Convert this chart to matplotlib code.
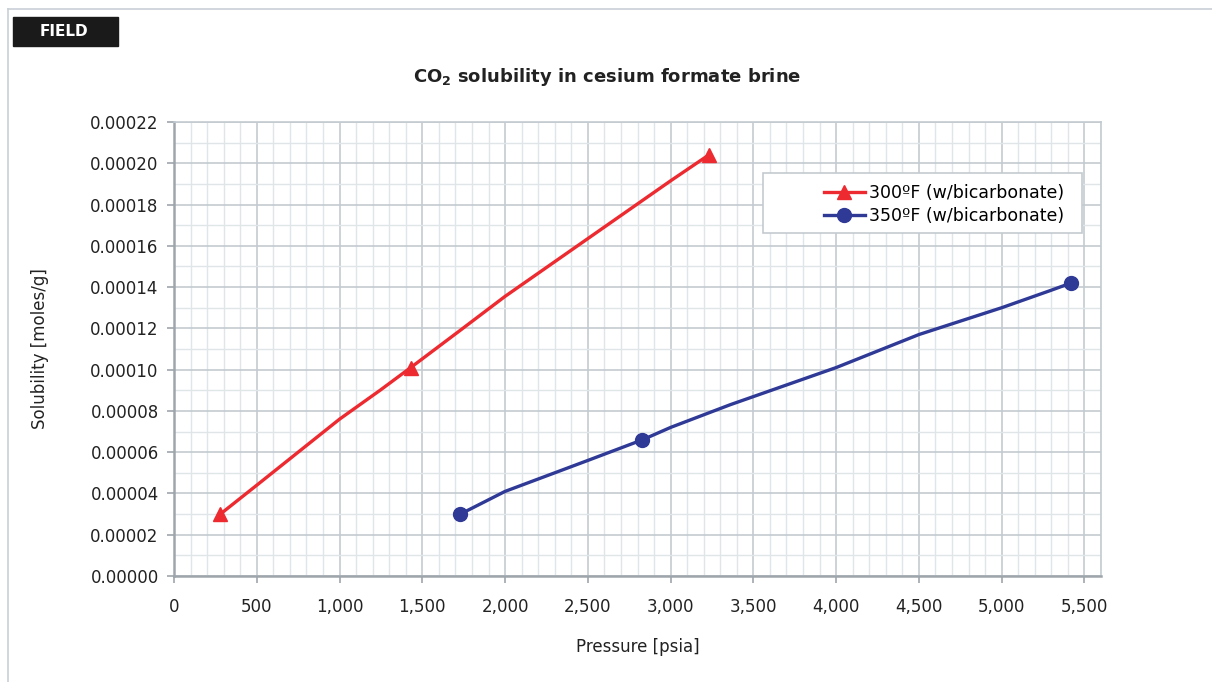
import matplotlib
matplotlib.use('Agg')
import matplotlib.pyplot as plt
from matplotlib.lines import Line2D
from matplotlib.patches import Rectangle
from matplotlib.ticker import MultipleLocator, FuncFormatter

# 300F (w/bicarbonate) - line points and the measured (marker) points
p300 = [280, 500, 750, 1000, 1245, 1430, 1720, 2000, 2500, 3000, 3230]
s300 = [3.0e-5, 4.4e-5, 6.0e-5, 7.6e-5, 9.0e-5, 1.01e-4, 1.185e-4, 1.355e-4, 1.635e-4, 1.915e-4, 2.04e-4]
p300_pts = [280, 1430, 3230]
s300_pts = [3.0e-5, 1.01e-4, 2.04e-4]

# 350F (w/bicarbonate)
p350 = [1730, 2000, 2500, 2830, 3000, 3360, 4000, 4500, 5000, 5300, 5420]
s350 = [3.0e-5, 4.1e-5, 5.6e-5, 6.6e-5, 7.2e-5, 8.3e-5, 1.01e-4, 1.17e-4, 1.30e-4, 1.385e-4, 1.42e-4]
p350_pts = [1730, 2830, 5420]
s350_pts = [3.0e-5, 6.6e-5, 1.42e-4]

labels = ['300ºF (w/bicarbonate)', '350ºF (w/bicarbonate)']

red = '#ec2a30'
blue = '#2f3996'
major_c = '#c3cbd0'
minor_c = '#e0e5e8'

fig = plt.figure(figsize=(12.12, 6.82), dpi=100)
ax = fig.add_axes([174/1212, 1-576/682, (1101-174)/1212, (576-122)/682])

ax.plot(p300, s300, color=red, lw=2.4, zorder=3)
ax.plot(p300_pts, s300_pts, ls='none', marker='^', ms=10, color=red, zorder=4)
ax.plot(p350, s350, color=blue, lw=2.4, zorder=3)
ax.plot(p350_pts, s350_pts, ls='none', marker='o', ms=10, color=blue, zorder=4)

ax.set_xlim(0, 5600)
ax.set_ylim(0, 0.00022)
ax.xaxis.set_major_locator(MultipleLocator(500))
ax.xaxis.set_minor_locator(MultipleLocator(100))
ax.yaxis.set_major_locator(MultipleLocator(0.00002))
ax.yaxis.set_minor_locator(MultipleLocator(0.00001))
ax.xaxis.set_major_formatter(FuncFormatter(lambda v, p: f'{v:,.0f}'))
ax.yaxis.set_major_formatter(FuncFormatter(lambda v, p: f'{v:.5f}'))

ax.grid(True, which='major', color=major_c, lw=1.2, zorder=1)
ax.grid(True, which='minor', color=minor_c, lw=1.0, zorder=0)
ax.set_axisbelow(True)

for side in ['top', 'right']:
    ax.spines[side].set_color(major_c)
    ax.spines[side].set_linewidth(1.2)
for side in ['left', 'bottom']:
    ax.spines[side].set_color('#9ea6ac')
    ax.spines[side].set_linewidth(1.8)

ax.tick_params(which='major', length=5, width=1.2, color='#9ea6ac',
               labelsize=12, labelcolor='#222222', pad=6)
ax.tick_params(which='minor', length=0)
ax.tick_params(axis='x', pad=11)

ax.set_xlabel('Pressure [psia]', fontsize=12, color='#222222', labelpad=16)
ax.set_ylabel('Solubility [moles/g]', fontsize=12, color='#222222', labelpad=30)

# legend box (Excel style, wide with empty space on the left)
ax.add_patch(Rectangle((0.6354, 0.7555), 0.3441, 0.1322, transform=ax.transAxes,
                       facecolor='white', edgecolor=major_c, lw=1.2, zorder=5))
handles = [Line2D([], [], color=red, lw=2.4, marker='^', ms=10),
           Line2D([], [], color=blue, lw=2.4, marker='o', ms=10)]
leg = ax.legend(handles, labels, loc='center right', bbox_to_anchor=(0.96, 0.818),
                fontsize=12.5, frameon=False, handlelength=2.4, handletextpad=0.2,
                borderpad=0, labelspacing=0.3, borderaxespad=0)
leg.set_zorder(6)

fig.text(607/1212, 1-77/682, 'CO$_\\mathbf{2}$ solubility in cesium formate brine',
         ha='center', va='center', fontsize=13, fontweight='bold', color='#222222')

# outer panel border
fig.add_artist(Line2D([8/1212, 1], [1-9/682, 1-9/682], color='#c8d0d6', lw=1.2))
fig.add_artist(Line2D([8/1212, 8/1212], [0, 1-9/682], color='#c8d0d6', lw=1.2))

# FIELD tag
fig.add_artist(Rectangle((13/1212, 1-46/682), 105/1212, 29/682,
                         transform=fig.transFigure, color='#1a1a1a'))
fig.text(64/1212, 1-31.5/682, 'FIELD', ha='center', va='center', fontsize=11,
         fontweight='bold', color='white')

fig.savefig('out.png', dpi=100)
